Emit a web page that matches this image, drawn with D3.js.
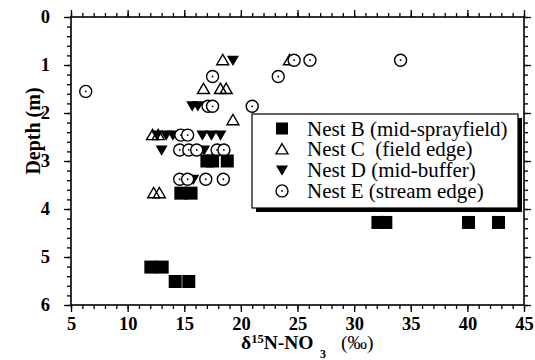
<!DOCTYPE html>
<html>
<head>
<meta charset="utf-8">
<script src="https://cdn.jsdelivr.net/npm/d3@7"></script>
<style>
  body { margin: 0; background: #fff; }
  svg { display: block; font-family: 'Liberation Serif', 'Times New Roman', serif; }
</style>
</head>
<body>
<div id="chart"></div>
<script>
const width = 535;
const height = 360;

// Nest B (mid-sprayfield): [d15N, depth]
const nestB = [
  [17.0, 3.0], [17.5, 3.0], [18.8, 3.0],
  [14.7, 3.67], [15.6, 3.67],
  [12.05, 5.21], [13.05, 5.21],
  [14.2, 5.51], [15.4, 5.51],
  [32.1, 4.28], [32.8, 4.28], [40.1, 4.28], [42.75, 4.28],
];
// Nest C (field edge)
const nestC = [
  [18.4, 0.9], [24.3, 0.9],
  [16.7, 1.5], [18.2, 1.5], [18.7, 1.5],
  [19.3, 2.15],
  [12.2, 2.46], [12.7, 2.46],
  [12.3, 3.67], [12.8, 3.67],
];
// Nest D (mid-buffer)
const nestD = [
  [19.3, 0.9],
  [15.7, 1.85], [16.2, 1.85],
  [12.6, 2.46], [13.4, 2.46], [14.0, 2.46],
  [16.6, 2.46], [17.4, 2.46], [18.2, 2.46],
  [13.0, 2.77], [16.75, 2.77],
  [15.8, 3.38],
];
// Nest E (stream edge)
const nestE = [
  [6.3, 1.55],
  [24.7, 0.9], [26.1, 0.9], [34.1, 0.9],
  [17.5, 1.24], [23.3, 1.24],
  [17.1, 1.86], [17.5, 1.86], [21.0, 1.86],
  [14.7, 2.46], [15.3, 2.46],
  [14.6, 2.77], [15.4, 2.77], [16.1, 2.77], [17.9, 2.77], [18.5, 2.77],
  [14.6, 3.38], [15.3, 3.38], [16.9, 3.38], [18.45, 3.38],
];

const legendLabels = [
  'Nest B (mid-sprayfield)',
  'Nest C  (field edge)',
  'Nest D (mid-buffer)',
  'Nest E (stream edge)',
];
const legendKinds = ['square', 'up', 'down', 'circle'];

const xMajor = d3.range(5, 46, 5);
const xMinor = d3.range(5, 46, 1);
const yMajor = d3.range(0, 7, 1);
const yMinor = d3.range(0, 30.5, 1).map((v) => v / 5);

const margin = { left: 71, right: 524, top: 17, bottom: 305 };

const x = d3.scaleLinear().domain([5, 45]).range([margin.left, margin.right]);
const y = d3.scaleLinear().domain([0, 6]).range([margin.top, margin.bottom]);

const svg = d3.select('#chart').append('svg')
  .attr('width', width)
  .attr('height', height);

// Axes: minor and major ticks on all four sides, all pointing outward
const addAxis = (axisFn, scale, values, size, labels, transform) => {
  const g = svg.append('g')
    .attr('transform', transform)
    .call(axisFn(scale).tickValues(values).tickSize(size)
      .tickPadding(axisFn === d3.axisLeft ? 14 : 5)
      .tickFormat(labels ? d3.format('d') : ''));
  g.attr('font-family', "'Liberation Serif', 'Times New Roman', serif");
  g.select('.domain').remove();
  g.selectAll('line').attr('stroke', '#000').attr('stroke-width', 1.3);
  g.selectAll('text')
    .attr('fill', '#000')
    .style('font-size', '18.5px')
    .style('font-weight', 'bold');
  return g;
};

addAxis(d3.axisBottom, x, xMinor, 4, false, `translate(0,${margin.bottom})`);
addAxis(d3.axisBottom, x, xMajor, 7, true, `translate(0,${margin.bottom})`);
addAxis(d3.axisTop, x, xMinor, 4, false, `translate(0,${margin.top})`);
addAxis(d3.axisTop, x, xMajor, 7, false, `translate(0,${margin.top})`);
addAxis(d3.axisLeft, y, yMinor, 4, false, `translate(${margin.left},0)`);
addAxis(d3.axisLeft, y, yMajor, 7, true, `translate(${margin.left},0)`);
addAxis(d3.axisRight, y, yMinor, 4, false, `translate(${margin.right},0)`);
addAxis(d3.axisRight, y, yMajor, 7, false, `translate(${margin.right},0)`);

// Plot frame
svg.append('rect')
  .attr('x', margin.left)
  .attr('y', margin.top)
  .attr('width', margin.right - margin.left)
  .attr('height', margin.bottom - margin.top)
  .attr('fill', 'none')
  .attr('stroke', '#000')
  .attr('stroke-width', 1.6);

// Marker shapes
const drawMarker = (sel, kind, s) => {
  if (kind === 'square') {
    sel.append('rect')
      .attr('x', -s / 2).attr('y', -s / 2)
      .attr('width', s).attr('height', s)
      .attr('fill', '#000');
  } else if (kind === 'up') {
    sel.append('path')
      .attr('d', `M${-s / 2},${s * 0.38}L${s / 2},${s * 0.38}L0,${-s * 0.48}Z`)
      .attr('fill', 'none')
      .attr('stroke', '#000')
      .attr('stroke-width', 1.4);
  } else if (kind === 'down') {
    sel.append('path')
      .attr('d', `M${-s / 2},${-s * 0.38}L${s / 2},${-s * 0.38}L0,${s * 0.48}Z`)
      .attr('fill', '#000');
  } else {
    sel.append('circle')
      .attr('r', s / 2)
      .attr('fill', '#fff')
      .attr('stroke', '#000')
      .attr('stroke-width', 1.4);
    sel.append('circle').attr('r', 0.9).attr('fill', '#000');
  }
};

const plotSeries = (data, kind, s) => {
  svg.append('g')
    .selectAll('g')
    .data(data)
    .join('g')
    .attr('transform', (d) => `translate(${x(d[0])},${y(d[1])})`)
    .each(function () {
      drawMarker(d3.select(this), kind, s);
    });
};

plotSeries(nestC, 'up', 12);
plotSeries(nestD, 'down', 12);
plotSeries(nestE, 'circle', 12);
plotSeries(nestB, 'square', 13);

// Legend box with drop shadow
const lg = { x: 252, y: 114, w: 266, h: 94 };
svg.append('rect')
  .attr('x', lg.x + 4).attr('y', lg.y + 4)
  .attr('width', lg.w).attr('height', lg.h)
  .attr('fill', '#000');
svg.append('rect')
  .attr('x', lg.x).attr('y', lg.y)
  .attr('width', lg.w).attr('height', lg.h)
  .attr('fill', '#fff')
  .attr('stroke', '#000')
  .attr('stroke-width', 1.2);

const legendRow = svg.append('g')
  .selectAll('g')
  .data(legendLabels)
  .join('g')
  .attr('transform', (_, i) => `translate(282,${128.5 + i * 20.8})`);

legendRow.each(function (_, i) {
  drawMarker(d3.select(this), legendKinds[i], 12);
});

legendRow.append('text')
  .attr('x', 25)
  .attr('y', 7)
  .style('font-size', '21px')
  .style('white-space', 'pre')
  .attr('xml:space', 'preserve')
  .text((d) => d);

// Y axis title
svg.append('text')
  .attr('transform', 'translate(40,131) rotate(-90)')
  .attr('text-anchor', 'middle')
  .style('font-size', '20px')
  .style('font-weight', 'bold')
  .text('Depth (m)');

// X axis title: δ15N-NO3 (‰)
const xt = svg.append('text')
  .attr('x', 241)
  .attr('y', 349)
  .style('font-size', '19.5px')
  .style('font-weight', 'bold');
xt.append('tspan').text('δ');
xt.append('tspan').attr('dy', -6).style('font-size', '12.5px').text('15');
xt.append('tspan').attr('dy', 6).text('N-NO');
xt.append('tspan').attr('x', 320).attr('dy', 9).style('font-size', '12px').text('3');
xt.append('tspan').attr('x', 341).attr('dy', -9).style('font-weight', 'normal').text('(‰)');
</script>
</body>
</html>
